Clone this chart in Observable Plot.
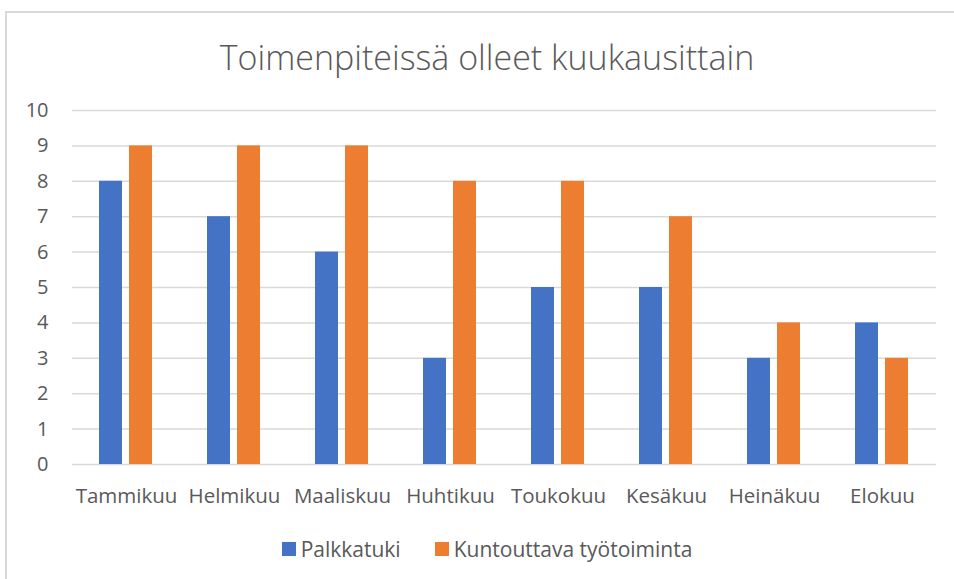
<!DOCTYPE html>
<html>
<head>
<meta charset="utf-8">
<script src="https://cdn.jsdelivr.net/npm/d3@7"></script>
<script src="https://cdn.jsdelivr.net/npm/@observablehq/plot@0.6"></script>
<style>
  body { margin: 0; background: #fff; font-family: "Open Sans", sans-serif; }
  #wrap { position: relative; width: 954px; height: 579px; overflow: hidden; background: #fff; }
  #frame { position: absolute; left: 5px; top: 11px; width: 1000px; height: 700px; border-left: 2px solid #d9d9d9; border-top: 2px solid #d9d9d9; box-sizing: border-box; }
  #title { position: absolute; left: 0; width: 974px; top: 40px; line-height: 1; text-align: center; font-size: 34px; font-weight: 300; color: #595959; }
  #chart { position: absolute; left: 0; top: 90px; }
  #legend { position: absolute; top: 535px; left: 0; width: 974px; display: flex; justify-content: center; gap: 34px; font-size: 21px; line-height: 28px; color: #595959; }
  .item { display: flex; align-items: center; gap: 5px; }
  .sw { width: 14px; height: 14px; display: inline-block; }
</style>
</head>
<body>
<div id="wrap">
  <div id="frame"></div>
  <div id="title"></div>
  <div id="chart"></div>
  <div id="legend"></div>
</div>
<script>
const title = "Toimenpiteissä olleet kuukausittain";
const months = ["Tammikuu", "Helmikuu", "Maaliskuu", "Huhtikuu", "Toukokuu", "Kesäkuu", "Heinäkuu", "Elokuu"];
const series = ["Palkkatuki", "Kuntouttava työtoiminta"];
const palkkatuki = [8, 7, 6, 3, 5, 5, 3, 4];
const kuntouttava = [9, 9, 9, 8, 8, 7, 4, 3];
const colors = ["#4472C4", "#ED7D31"];
const yTicks = [0, 1, 2, 3, 4, 5, 6, 7, 8, 9, 10];

const data = [];
months.forEach((m, i) => {
  data.push({month: m, series: series[0], value: palkkatuki[i]});
  data.push({month: m, series: series[1], value: kuntouttava[i]});
});

document.getElementById("title").textContent = title;

const chart = Plot.plot({
  width: 954,
  height: 440,
  marginLeft: 70,
  marginRight: 17,
  marginTop: 20,
  marginBottom: 66,
  style: {fontFamily: "'Open Sans', sans-serif", color: "#595959", background: "transparent"},
  fx: {domain: months, paddingInner: 0, paddingOuter: 0, label: null, axis: null},
  x: {domain: series, paddingInner: 7 / 31, paddingOuter: 0.86, axis: null},
  y: {domain: [0, 10], label: null, axis: null},
  color: {domain: series, range: colors},
  marks: [
    Plot.gridY(yTicks, {stroke: "#d9d9d9", strokeOpacity: 1, strokeWidth: 1.5}),
    Plot.barY(data, {fx: "month", x: "series", y: "value", fill: "series"}),
    Plot.axisY(yTicks, {tickSize: 0, tickPadding: 24, fontSize: 20, fill: "#595959", label: null}),
    Plot.axisFx({anchor: "bottom", tickSize: 0, tickPadding: 24, fontSize: 20.5, fill: "#595959", label: null})
  ]
});
document.getElementById("chart").appendChild(chart);

const legend = document.getElementById("legend");
series.forEach((s, i) => {
  const it = document.createElement("div");
  it.className = "item";
  const sw = document.createElement("span");
  sw.className = "sw";
  sw.style.background = colors[i];
  const t = document.createElement("span");
  t.textContent = s;
  it.appendChild(sw);
  it.appendChild(t);
  legend.appendChild(it);
});
</script>
</body>
</html>
